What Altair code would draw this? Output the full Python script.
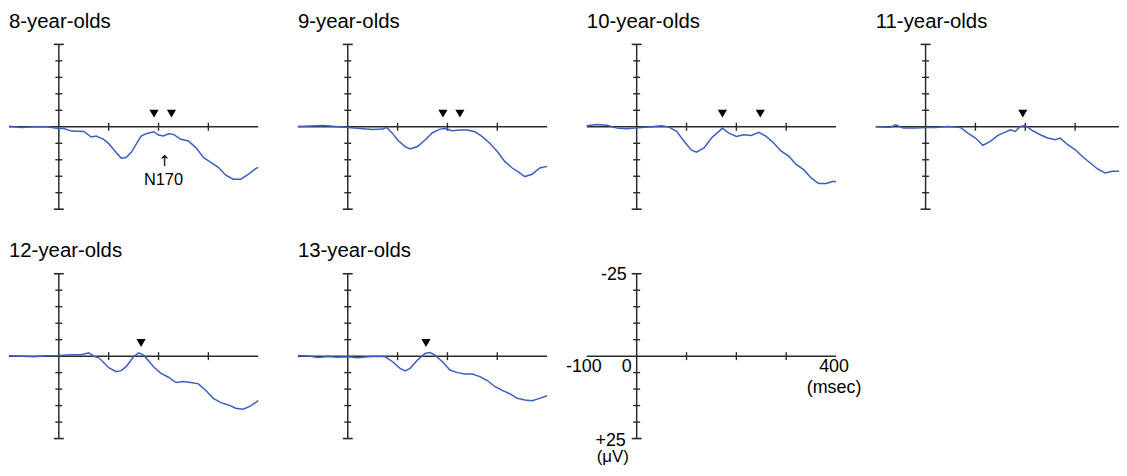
import altair as alt
import pandas as pd

# ---------------- data ----------------
groups = ["8-year-olds", "9-year-olds", "10-year-olds", "11-year-olds",
          "12-year-olds", "13-year-olds"]

t8 = [-100, -75, -50, -25, 0, 10, 25, 50, 65, 75, 90, 100, 115, 125, 135, 145, 155, 165,
      175, 190, 200, 210, 220, 230, 245, 260, 275, 290, 305, 320, 335, 350, 365, 380, 395, 400]
v8 = [-0.2, 0.2, 0, 0, 0.5, 0.5, 1.3, 1.4, 3.1, 2.8, 3.8, 5.1, 7.8, 9.5, 9.3, 7.8, 5.3, 2.8,
      2.1, 1.5, 2.5, 2.8, 2.1, 2.3, 3.8, 4.3, 6.3, 9.3, 10.8, 12.3, 14.7, 15.9, 15.9, 14.4, 12.7, 12.3]

t9 = [-100, -50, -25, 0, 25, 50, 70, 78, 90, 100, 115, 125, 140, 155, 170, 185, 195, 210,
      225, 240, 255, 270, 285, 300, 315, 330, 345, 355, 370, 385, 400]
v9 = [-0.1, -0.4, -0.1, 0.2, 0.5, 0.8, 0.7, 0.2, 2.0, 4.0, 6.0, 6.7, 6.0, 4.0, 1.8, 0.7, 0.5, 1.2,
      1.0, 1.0, 1.5, 3.0, 5.0, 7.5, 10.5, 12.5, 14.0, 15.1, 14.4, 12.5, 12.0]

t10 = [-100, -80, -60, -40, -20, -5, 10, 30, 50, 65, 80, 95, 110, 120, 135, 150, 165, 172,
       185, 200, 215, 230, 245, 260, 275, 290, 305, 320, 335, 350, 365, 380, 395, 400]
v10 = [-0.3, -0.7, -0.5, 0.4, 0.6, 0.4, 0.2, 0, -0.3, 0.1, 1.4, 4.4, 7.1, 7.7, 6.4, 3.4, 1.4, 0.4,
       1.9, 2.9, 2.4, 2.6, 1.7, 2.9, 4.9, 7.4, 8.9, 11.4, 13.0, 15.5, 17.2, 17.2, 16.5, 16.7]

t11 = [-100, -70, -60, -45, -20, 0, 20, 45, 70, 85, 100, 115, 130, 145, 160, 170, 180, 190,
       200, 215, 230, 245, 260, 270, 285, 300, 315, 330, 345, 360, 375, 390, 400]
v11 = [0, 0.1, -0.6, 0.4, 0.4, 0.2, 0.2, -0.1, 0.2, 1.9, 3.4, 5.6, 4.4, 2.6, 1.6, 0.9, 1.4, -0.1,
       -0.4, 1.2, 2.4, 3.4, 3.9, 3.4, 5.4, 6.9, 9.1, 10.9, 12.8, 14.0, 13.5, 13.5, 13.6]

t12 = [-100, -75, -50, -25, 0, 25, 45, 60, 70, 80, 90, 100, 115, 125, 135, 150, 160, 170,
       180, 190, 205, 220, 235, 250, 265, 280, 295, 310, 325, 340, 355, 370, 385, 400]
v12 = [-0.1, 0, 0.2, -0.1, -0.2, -0.4, -0.4, -1.0, 0, 0.5, 1.9, 3.5, 4.7, 4.4, 3.2, 0.2, -1.0, -0.3,
       1.4, 3.2, 5.2, 6.4, 8.0, 7.7, 8.0, 8.4, 10.4, 12.8, 14.1, 14.8, 15.8, 16.1, 15.1, 13.5]

t13 = [-100, -75, -60, -40, -20, 0, 20, 40, 60, 75, 90, 105, 115, 125, 140, 155, 165, 175,
       190, 205, 220, 235, 250, 265, 280, 295, 310, 325, 340, 355, 370, 385, 400]
v13 = [-0.2, 0, 0.4, 0.1, 0.3, 0.2, 0.5, 0.2, 0, 0.2, 1.7, 3.7, 4.5, 3.7, 1.2, -0.8, -1.1, -0.3,
       1.7, 4.2, 5.0, 5.4, 5.4, 6.2, 7.4, 9.2, 10.4, 11.4, 12.8, 13.3, 13.5, 12.8, 12.0]

peaks8 = [191, 226]
peaks9 = [191, 225]
peaks10 = [172, 248]
peaks11 = [195]
peaks12 = [165]
peaks13 = [157]
peak_level = -4.0

x_range = [-100, 400]
y_range = [-25, 25]
x_ticks = [100, 200, 300]
y_ticks = [-20, -15, -10, -5, 5, 10, 15, 20]
y_caps = [-25, 25]

n170_label = "N170"
n170_time = 210
n170_arrow_level = 10.3
n170_text_level = 16.2

# ---------------- styling ----------------
W, H = 251, 166
AX = "#2a2a2a"
BLUE = "#3c5fc2"
FONT = "Liberation Sans"

xs = alt.Scale(domain=x_range, nice=False, zero=False)
ys = alt.Scale(domain=y_range, reverse=True, nice=False, zero=False)


def X(f="x"):
    return alt.X(f"{f}:Q", scale=xs, axis=None)


def Y(f="y"):
    return alt.Y(f"{f}:Q", scale=ys, axis=None)


def axes_layers():
    xa = alt.Chart(pd.DataFrame({"x": [x_range[0]], "x2": [x_range[1]], "y": [0]})).mark_rule(
        color=AX, strokeWidth=1.5).encode(x=X(), x2="x2:Q", y=Y())
    ya = alt.Chart(pd.DataFrame({"x": [0], "y": [y_range[0]], "y2": [y_range[1]]})).mark_rule(
        color=AX, strokeWidth=1.5).encode(x=X(), y=Y(), y2="y2:Q")
    xt = alt.Chart(pd.DataFrame({"x": x_ticks, "y": [0] * len(x_ticks)})).mark_tick(
        orient="vertical", size=8, thickness=1.4, color=AX, opacity=1).encode(x=X(), y=Y())
    yt = alt.Chart(pd.DataFrame({"x": [0] * len(y_ticks), "y": y_ticks})).mark_tick(
        orient="horizontal", size=7, thickness=1.4, color=AX, opacity=1).encode(x=X(), y=Y())
    yc = alt.Chart(pd.DataFrame({"x": [0] * len(y_caps), "y": y_caps})).mark_tick(
        orient="horizontal", size=10, thickness=1.6, color=AX, opacity=1).encode(x=X(), y=Y())
    return [xa, ya, xt, yt, yc]


def title_layer(name):
    return alt.Chart(pd.DataFrame({"x": [x_range[0]], "y": [y_range[0]], "t": [name]})).mark_text(
        font=FONT, fontSize=20.5, color="black", align="left", baseline="alphabetic",
        dy=-17).encode(x=X(), y=Y(), text="t:N")


def panel(name, t, v, peaks, extra=None):
    line = alt.Chart(pd.DataFrame({"x": t, "y": v})).mark_line(
        color=BLUE, strokeWidth=1.5).encode(x=X(), y=Y())
    tri = alt.Chart(pd.DataFrame({"x": peaks, "y": [peak_level] * len(peaks)})).mark_point(
        shape="triangle-down", filled=True, size=85, color="black", opacity=1).encode(x=X(), y=Y())
    layers = axes_layers() + [line, tri, title_layer(name)] + (extra or [])
    return alt.layer(*layers).properties(width=W, height=H)


n170 = [
    alt.Chart(pd.DataFrame({"x": [n170_time + 2], "y": [n170_arrow_level], "t": ["↑"]})).mark_text(
        font="DejaVu Sans", fontSize=15, color="black", baseline="middle", align="center").encode(
        x=X(), y=Y(), text="t:N"),
    alt.Chart(pd.DataFrame({"x": [n170_time], "y": [n170_text_level], "t": [n170_label]})).mark_text(
        font=FONT, fontSize=16.5, color="black", baseline="middle", align="center").encode(
        x=X(), y=Y(), text="t:N"),
]


# scale (legend) panel
def label(x, y, text, align, dx, dy, size=18):
    return alt.Chart(pd.DataFrame({"x": [x], "y": [y], "t": [text]})).mark_text(
        font=FONT, fontSize=size, color="black", baseline="middle", align=align, dx=dx, dy=dy).encode(
        x=X(), y=Y(), text="t:N")


scale_panel = alt.layer(
    *axes_layers(),
    label(0, -25, "-25", "right", -10, 1),
    label(0, 0, "0", "right", -5, 11),
    label(-100, 0, "-100", "center", -3, 11),
    label(400, 0, "400", "center", -2, 11),
    label(400, 0, "(msec)", "center", -2, 32),
    label(0, 25, "+25", "right", -11, 2),
    label(0, 25, "(μV)", "center", -24, 19, 17),
).properties(width=W, height=H)

panels = [
    panel(groups[0], t8, v8, peaks8, n170),
    panel(groups[1], t9, v9, peaks9),
    panel(groups[2], t10, v10, peaks10),
    panel(groups[3], t11, v11, peaks11),
    panel(groups[4], t12, v12, peaks12),
    panel(groups[5], t13, v13, peaks13),
    scale_panel,
]

chart = alt.concat(
    *panels, columns=4, spacing=alt.RowColnumber(row=65, column=40), bounds="flush"
).configure_view(stroke=None).properties(
    autosize=alt.AutoSizeParams(type="none"),
    padding={"left": 1, "top": 35, "right": 1118, "bottom": 425})

chart.save("out.html", embed_options={"renderer": "svg", "actions": False})
